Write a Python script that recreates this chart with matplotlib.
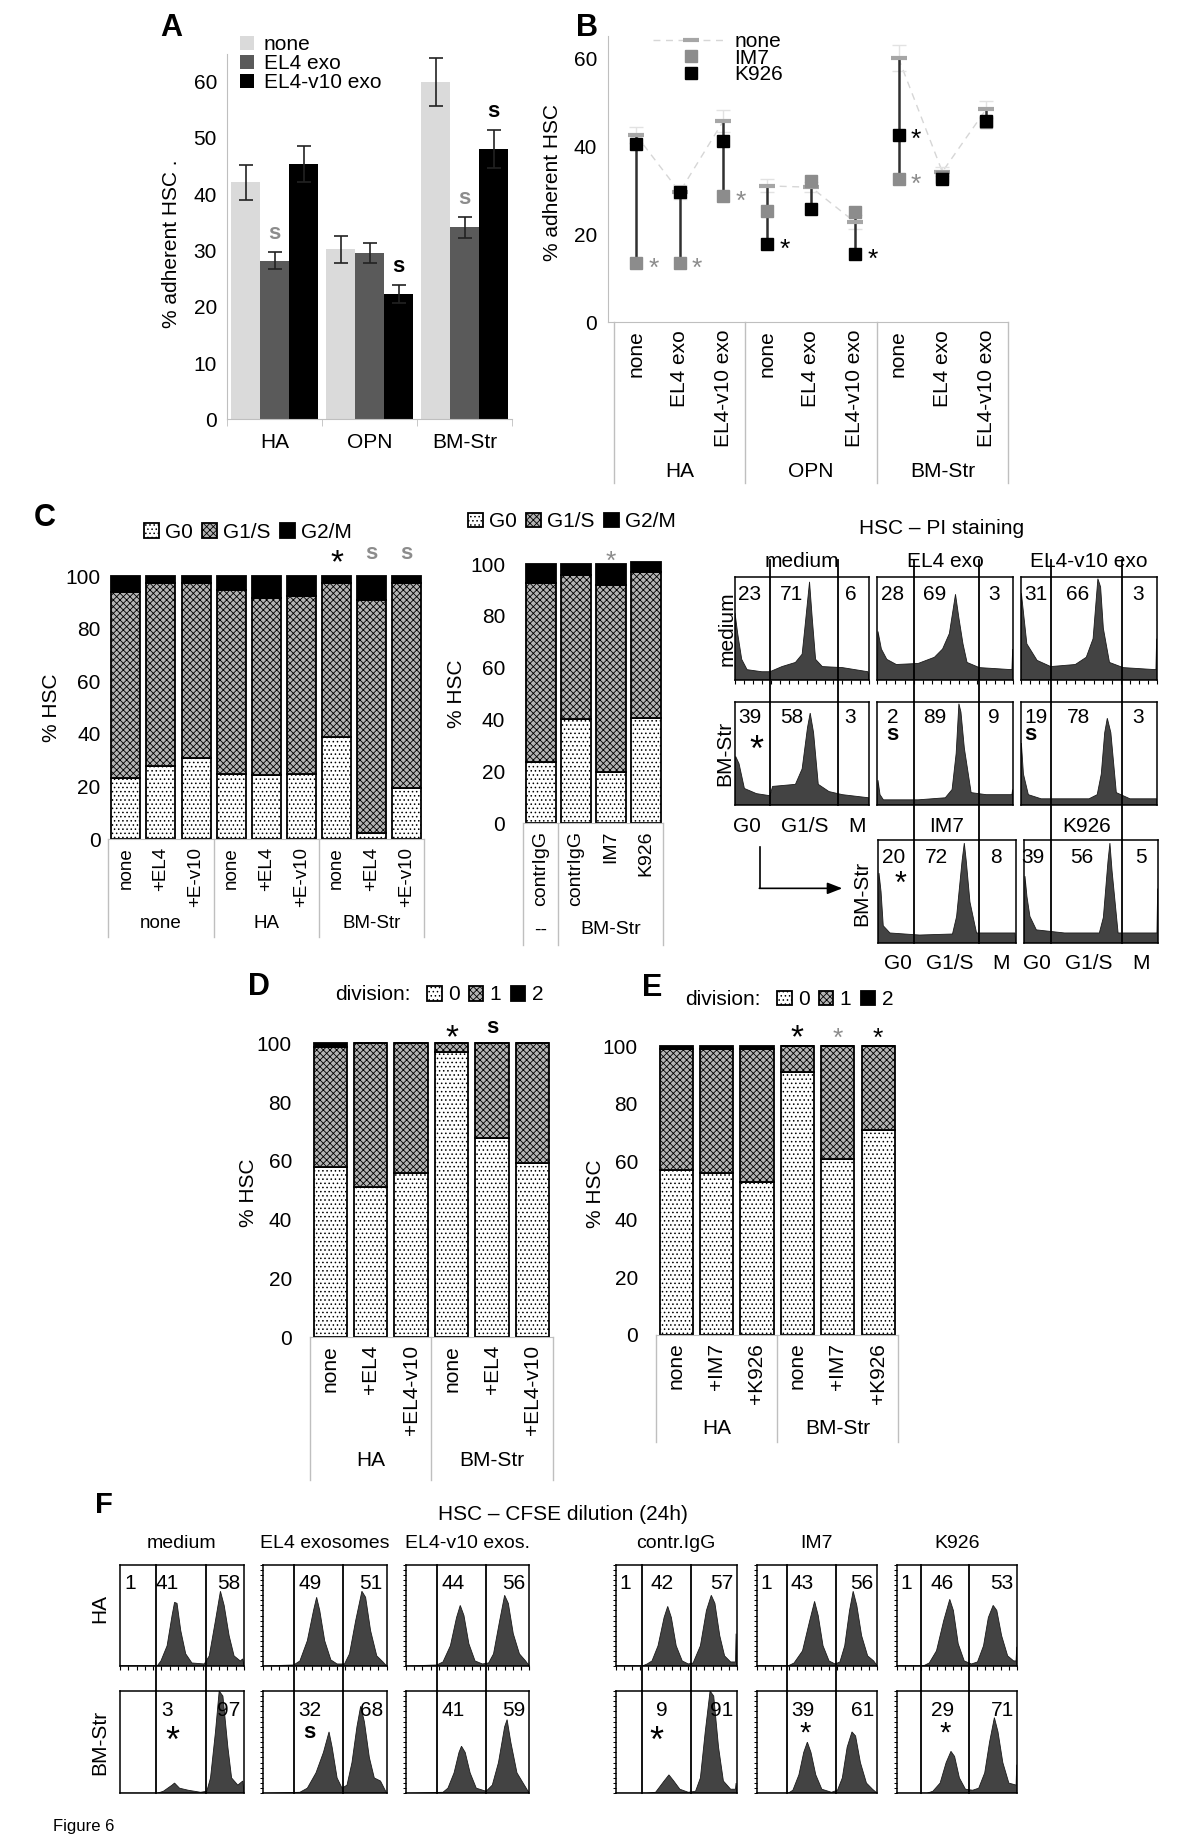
import numpy as np
import matplotlib
matplotlib.use("Agg")
import matplotlib.pyplot as plt
from matplotlib.lines import Line2D

# ======================= DATA =======================
# Panel A  (% adherent HSC, bars)
a_groups = ["HA", "OPN", "BM-Str"]
a_series = ["none", "EL4 exo", "EL4-v10 exo"]
a_none = [42.1, 30.2, 59.9]
a_el4 = [28.2, 29.5, 34.1]
a_v10 = [45.4, 22.3, 48.0]
a_none_err = [3.1, 2.4, 4.3]
a_el4_err = [1.5, 1.8, 1.9]
a_v10_err = [3.2, 1.6, 3.4]
a_sig = [(0, 1, "s", "grey"), (1, 2, "s", "black"), (2, 1, "s", "grey"), (2, 2, "s", "black")]

# Panel B  (% adherent HSC, antibodies)
b_cats = ["none", "EL4 exo", "EL4-v10 exo"] * 3
b_groups = ["HA", "OPN", "BM-Str"]
b_none = [42.6, 29.6, 45.8, 31.0, 30.7, 22.8, 60.0, 34.2, 48.4]
b_none_err = [1.8, 1.5, 2.5, 1.5, 1.2, 1.5, 3.0, 1.0, 2.0]
b_im7 = [13.4, 13.4, 28.6, 25.3, 32.0, 25.1, 32.5, 33.0, 45.6]
b_k926 = [40.5, 29.7, 41.1, 17.7, 25.7, 15.5, 42.6, 32.5, 45.8]
b_stars = [(0, "IM7"), (1, "IM7"), (2, "IM7"), (3, "K926"), (5, "K926"), (6, "K926"), (6, "IM7")]

# Panel C (cell cycle, % HSC)
c_cats = ["none", "+EL4", "+E-v10"] * 3
c_groups = ["none", "HA", "BM-Str"]
c_g0 = [23.2, 28.0, 30.8, 24.7, 24.3, 24.7, 39.0, 2.3, 19.4]
c_g1s = [70.6, 69.2, 66.4, 70.0, 67.2, 67.8, 58.2, 88.6, 77.8]
c_g2m = [6.2, 2.8, 2.8, 5.3, 8.5, 7.5, 2.8, 9.1, 2.8]
c_marks = [(6, "*", "black"), (7, "s", "grey"), (8, "s", "grey")]

cm_cats = ["contrIgG", "contrIgG", "IM7", "K926"]
cm_groups = ["--", "BM-Str"]
cm_sizes = [1, 3]
cm_g0 = [23.8, 40.1, 19.9, 40.7]
cm_g1s = [68.7, 55.8, 72.0, 56.3]
cm_g2m = [7.5, 4.1, 8.1, 3.9]
cm_marks = [(2, "*", "grey")]

# Panel C, PI histograms (profiles: (position, relative count))
pi_cols = ["medium", "EL4 exo", "EL4-v10 exo"]
pi_medium = [
    [(0, 0), (0.0, 0.65), (0.02, 0.45), (0.05, 0.2), (0.09, 0.1), (0.2, 0.08), (0.26, 0.08), (0.35, 0.13),
     (0.45, 0.17), (0.5, 0.25), (0.52, 0.5), (0.555, 0.95), (0.575, 0.6), (0.6, 0.2), (0.65, 0.13),
     (0.8, 0.12), (0.99, 0.08), (1, 0)],
    [(0, 0), (0.005, 0.47), (0.03, 0.3), (0.07, 0.2), (0.14, 0.15), (0.3, 0.16), (0.42, 0.22), (0.48, 0.3),
     (0.53, 0.45), (0.575, 0.83), (0.6, 0.6), (0.63, 0.35), (0.66, 0.17), (0.75, 0.12), (0.99, 0.1),
     (0.995, 0.3), (1, 0)],
    [(0, 0), (0.005, 0.84), (0.045, 0.35), (0.12, 0.19), (0.22, 0.13), (0.4, 0.15), (0.48, 0.22), (0.53, 0.4),
     (0.565, 0.98), (0.585, 0.9), (0.605, 0.5), (0.65, 0.17), (0.75, 0.12), (0.99, 0.1), (0.995, 0.4), (1, 0)],
]
pi_bmstr = [
    [(0, 0), (0.005, 0.47), (0.03, 0.4), (0.07, 0.16), (0.16, 0.11), (0.26, 0.09), (0.28, 0.18), (0.45, 0.2),
     (0.5, 0.35), (0.54, 0.75), (0.56, 0.89), (0.585, 0.7), (0.62, 0.2), (0.7, 0.13), (0.8, 0.1),
     (0.995, 0.07), (1, 0)],
    [(0, 0), (0.005, 0.24), (0.02, 0.1), (0.045, 0.05), (0.3, 0.05), (0.5, 0.07), (0.55, 0.15), (0.58, 0.5),
     (0.6, 0.98), (0.615, 0.9), (0.64, 0.55), (0.69, 0.12), (0.8, 0.1), (0.99, 0.1), (0.995, 0.15), (1, 0)],
    [(0, 0), (0.005, 0.6), (0.02, 0.3), (0.056, 0.1), (0.15, 0.06), (0.5, 0.06), (0.56, 0.1), (0.59, 0.3),
     (0.615, 0.7), (0.634, 0.84), (0.66, 0.7), (0.7, 0.12), (0.8, 0.06), (0.995, 0.06), (1, 0)],
]
pi_ab_names = ["IM7", "K926"]
pi_ab = [
    [(0, 0), (0.005, 0.68), (0.02, 0.5), (0.036, 0.17), (0.085, 0.1), (0.3, 0.08), (0.54, 0.09), (0.57, 0.26),
     (0.61, 0.8), (0.626, 0.97), (0.64, 0.8), (0.667, 0.4), (0.715, 0.1), (0.85, 0.1), (0.995, 0.1), (1, 0)],
    [(0, 0), (0.005, 0.65), (0.02, 0.45), (0.042, 0.26), (0.09, 0.13), (0.3, 0.1), (0.56, 0.1), (0.59, 0.25),
     (0.625, 0.8), (0.639, 0.97), (0.655, 0.7), (0.7, 0.1), (0.85, 0.1), (0.99, 0.1), (0.995, 0.53), (1, 0)],
]
pi_lab_medium = [["23", "71", "6"], ["28", "69", "3"], ["31", "66", "3"]]
pi_lab_bmstr = [["39", "58", "3"], ["2", "89", "9"], ["19", "78", "3"]]
pi_lab_ab = [["20", "72", "8"], ["39", "56", "5"]]
pi_gates = [(0.26, 0.77), (0.27, 0.745), (0.22, 0.745)]
pi_gates_ab = [(0.26, 0.73), (0.2, 0.73)]

# Panel D (division, % HSC)
d_cats = ["none", "+EL4", "+EL4-v10"] * 2
d_groups = ["HA", "BM-Str"]
d_div0 = [58.0, 51.0, 56.0, 97.1, 67.9, 59.2]
d_div1 = [40.9, 49.0, 44.0, 2.9, 32.1, 40.8]
d_div2 = [1.1, 0, 0, 0, 0, 0]
d_marks = [(3, "*", "black"), (4, "s", "black")]

# Panel E
e_cats = ["none", "+IM7", "+K926"] * 2
e_groups = ["HA", "BM-Str"]
e_div0 = [57.1, 55.9, 53.1, 91.1, 60.9, 70.9]
e_div1 = [41.9, 43.1, 45.9, 8.9, 39.1, 29.1]
e_div2 = [1.0, 1.0, 1.0, 0, 0, 0]
e_marks = [(3, "*", "black"), (4, "*", "grey"), (5, "*", "black")]

# Panel F (CFSE histograms)
f_cols = ["medium", "EL4 exosomes", "EL4-v10 exos.", "contr.IgG", "IM7", "K926"]
f_ha = [
    [(0, 0), (0.3, 0.0), (0.33, 0.05), (0.38, 0.2), (0.42, 0.5), (0.44, 0.63), (0.46, 0.62), (0.49, 0.35),
     (0.53, 0.12), (0.58, 0.03), (0.68, 0.02), (0.72, 0.1), (0.77, 0.45), (0.81, 0.74), (0.84, 0.6),
     (0.88, 0.3), (0.92, 0.1), (0.97, 0.05), (0.99, 0.07), (1, 0)],
    [(0, 0), (0.25, 0.01), (0.3, 0.05), (0.36, 0.25), (0.41, 0.55), (0.435, 0.68), (0.46, 0.55), (0.5, 0.25),
     (0.55, 0.06), (0.6, 0.02), (0.66, 0.02), (0.7, 0.12), (0.75, 0.45), (0.8, 0.74), (0.83, 0.68),
     (0.87, 0.35), (0.92, 0.1), (0.97, 0.04), (1, 0)],
    [(0, 0), (0.25, 0.01), (0.3, 0.04), (0.36, 0.2), (0.41, 0.48), (0.44, 0.6), (0.47, 0.5), (0.51, 0.22),
     (0.56, 0.05), (0.62, 0.02), (0.67, 0.03), (0.71, 0.12), (0.76, 0.45), (0.8, 0.7), (0.83, 0.62),
     (0.87, 0.32), (0.92, 0.12), (0.97, 0.05), (1, 0)],
    [(0, 0), (0.22, 0.0), (0.26, 0.02), (0.3, 0.05), (0.35, 0.2), (0.4, 0.48), (0.43, 0.59), (0.46, 0.48),
     (0.5, 0.2), (0.55, 0.05), (0.6, 0.02), (0.64, 0.03), (0.7, 0.2), (0.75, 0.55), (0.79, 0.7),
     (0.82, 0.62), (0.86, 0.3), (0.9, 0.1), (0.95, 0.04), (0.99, 0.04), (0.995, 0.32), (1, 0)],
    [(0, 0), (0.26, 0.0), (0.31, 0.03), (0.38, 0.15), (0.44, 0.45), (0.48, 0.64), (0.51, 0.5), (0.55, 0.2),
     (0.6, 0.05), (0.65, 0.02), (0.69, 0.04), (0.73, 0.2), (0.77, 0.55), (0.8, 0.74), (0.83, 0.6),
     (0.87, 0.3), (0.92, 0.1), (0.97, 0.05), (1, 0)],
    [(0, 0), (0.22, 0.0), (0.27, 0.03), (0.33, 0.15), (0.39, 0.45), (0.44, 0.66), (0.47, 0.55), (0.51, 0.22),
     (0.56, 0.05), (0.62, 0.02), (0.67, 0.04), (0.72, 0.2), (0.76, 0.48), (0.8, 0.6), (0.83, 0.55),
     (0.87, 0.3), (0.92, 0.1), (0.97, 0.05), (0.99, 0.05), (0.995, 0.19), (1, 0)],
]
f_bm = [
    [(0, 0), (0.3, 0.0), (0.35, 0.02), (0.42, 0.08), (0.44, 0.1), (0.48, 0.05), (0.55, 0.03), (0.65, 0.01),
     (0.7, 0.02), (0.73, 0.15), (0.77, 0.6), (0.8, 1.0), (0.83, 0.95), (0.87, 0.45), (0.9, 0.15),
     (0.95, 0.08), (0.99, 0.12), (1, 0)],
    [(0, 0), (0.3, 0.01), (0.36, 0.05), (0.43, 0.2), (0.49, 0.4), (0.535, 0.6), (0.56, 0.45), (0.6, 0.15),
     (0.64, 0.05), (0.68, 0.08), (0.72, 0.3), (0.76, 0.65), (0.79, 0.85), (0.82, 0.7), (0.86, 0.35),
     (0.9, 0.15), (0.95, 0.12), (1, 0)],
    [(0, 0), (0.3, 0.01), (0.34, 0.05), (0.39, 0.2), (0.43, 0.4), (0.45, 0.46), (0.48, 0.4), (0.52, 0.2),
     (0.57, 0.05), (0.65, 0.02), (0.7, 0.08), (0.75, 0.3), (0.8, 0.65), (0.82, 0.72), (0.85, 0.5),
     (0.9, 0.2), (0.95, 0.1), (1, 0)],
    [(0, 0), (0.25, 0.0), (0.33, 0.01), (0.4, 0.12), (0.44, 0.18), (0.48, 0.12), (0.53, 0.04), (0.6, 0.01),
     (0.66, 0.02), (0.7, 0.15), (0.74, 0.6), (0.78, 1.0), (0.81, 0.95), (0.85, 0.45), (0.89, 0.12),
     (0.95, 0.04), (0.99, 0.04), (0.995, 0.1), (1, 0)],
    [(0, 0), (0.26, 0.0), (0.3, 0.03), (0.35, 0.18), (0.39, 0.4), (0.42, 0.5), (0.45, 0.4), (0.49, 0.18),
     (0.54, 0.04), (0.62, 0.01), (0.67, 0.03), (0.71, 0.15), (0.75, 0.45), (0.79, 0.6), (0.82, 0.56),
     (0.86, 0.3), (0.91, 0.1), (0.96, 0.04), (1, 0)],
    [(0, 0), (0.25, 0.0), (0.3, 0.02), (0.36, 0.1), (0.41, 0.3), (0.45, 0.41), (0.48, 0.36), (0.52, 0.15),
     (0.57, 0.04), (0.63, 0.03), (0.68, 0.05), (0.73, 0.2), (0.77, 0.5), (0.81, 0.74), (0.84, 0.6),
     (0.88, 0.3), (0.93, 0.1), (0.99, 0.08), (0.995, 0.28), (1, 0)],
]
f_lab_ha = [["1", "41", "58"], ["", "49", "51"], ["", "44", "56"], ["1", "42", "57"], ["1", "43", "56"], ["1", "46", "53"]]
f_lab_bm = [["", "3", "97"], ["", "32", "68"], ["", "41", "59"], ["", "9", "91"], ["", "39", "61"], ["", "29", "71"]]
f_gates = [(0.288, 0.69), (0.25, 0.65), (0.25, 0.65), (0.215, 0.62), (0.254, 0.658), (0.2, 0.6)]
f_marks_bm = [("*", 0.42, "big"), ("s", 0.38, "s"), None, ("*", 0.34, "big"), ("*", 0.40, "small"), ("*", 0.40, "small")]

# ======================= STYLE / LAYOUT =======================
plt.rcParams["font.family"] = ["Liberation Sans", "DejaVu Sans"]
plt.rcParams["hatch.linewidth"] = 0.6

W, H = 1200, 1843
fig = plt.figure(figsize=(W / 100, H / 100), dpi=100)
FS = 15
FSC = 13.5
AXGREY = "#bfbfbf"
SGREY = "#8c8c8c"
HFILL = "#434343"
COL = {"grey": SGREY, "black": "black"}

G0_STYLE = dict(facecolor="white", edgecolor="black", hatch="....", linewidth=1.3)
G1_STYLE = dict(facecolor="#b4b4b4", edgecolor="black", hatch="xxxxx", linewidth=1.3)
G2_STYLE = dict(facecolor="black", edgecolor="black", linewidth=1.3)


def add_ax(x0, y0, x1, y1):
    ax = fig.add_axes([x0 / W, 1 - y1 / H, (x1 - x0) / W, (y1 - y0) / H])
    ax._px = (x0, y0, x1, y1)
    return ax


def ay(ax, ypx):
    x0, y0, x1, y1 = ax._px
    return (y1 - ypx) / (y1 - y0)


def ftext(xpx, ypx, s, **kw):
    kw.setdefault("fontsize", FS)
    return fig.text(xpx / W, 1 - ypx / H, s, **kw)


def cat_axis(ax, labels, group_names, group_sizes, pad, group_ypx, sep_ypx, fs=FS):
    n = len(labels)
    ax.set_xlim(-0.5, n - 0.5)
    ax.set_xticks(np.arange(n))
    ax.set_xticklabels(labels, rotation=90, fontsize=fs)
    ax.tick_params(axis="x", length=0, pad=pad)
    tr = ax.get_xaxis_transform()
    ysep, ygrp = ay(ax, sep_ypx), ay(ax, group_ypx)
    start, bounds = 0, [-0.5]
    for name, size in zip(group_names, group_sizes):
        ax.text(start + (size - 1) / 2, ygrp, name, transform=tr, ha="center", va="center", fontsize=fs)
        start += size
        bounds.append(start - 0.5)
    for b in bounds:
        ax.plot([b, b], [0, ysep], transform=tr, color=AXGREY, lw=1, clip_on=False)


def stacked_panel(ax, layers, width, ypad, fs=FS):
    x = np.arange(len(layers[0]))
    bottom = np.zeros(len(x))
    conts = []
    for vals, st in zip(layers, [G0_STYLE, G1_STYLE, G2_STYLE]):
        vals = np.asarray(vals, float)
        c = ax.bar(x, vals, width, bottom=bottom, **st)
        for p in c:
            p.set_clip_on(False)
        conts.append(c)
        bottom += vals
    ax.set_ylim(0, 100)
    ax.set_yticks(np.arange(0, 101, 20))
    ax.tick_params(axis="y", length=0, pad=ypad, labelsize=fs)
    for s in ["top", "right", "left"]:
        ax.spines[s].set_visible(False)
    ax.spines["bottom"].set_color(AXGREY)
    return conts


def marks(ax, items, y, sizes=None):
    for i, (idx, s, c) in enumerate(items):
        big = s == "*" and c == "black" and (sizes is None or sizes[i] == "big")
        fs = (24 if big else 19) if s == "*" else 16
        weight = "bold" if s == "s" else "normal"
        yy = y - (4 if s == "*" else 0)
        ax.text(idx, yy, s, ha="center", va="center", color=COL[c], fontsize=fs,
                fontweight=weight, clip_on=False)


def hist_box(ax, pts, gates, labels, lab_x, lab_y, ext_top=0.0, ext_bot=0.0, bticks=False, lticks=False):
    xs, ys = zip(*pts)
    ax.fill(xs, ys, facecolor=HFILL, edgecolor="#1a1a1a", lw=0.6)
    ax.set_xlim(0, 1)
    ax.set_ylim(0, 1)
    for s in ax.spines.values():
        s.set_linewidth(1.1)
    if bticks:
        ax.set_xticks(np.linspace(0, 1, 16))
        ax.tick_params(axis="x", length=3, width=0.8, direction="out", labelbottom=False)
    else:
        ax.set_xticks([])
    if lticks:
        ax.set_yticks(np.linspace(0, 1, 21))
        ax.tick_params(axis="y", length=2.5, width=0.7, direction="out", labelleft=False)
    else:
        ax.set_yticks([])
    for g in gates:
        ax.axvline(g, ymin=-ext_bot, ymax=1 + ext_top, color="black", lw=1.3, clip_on=False)
    for lx, lab in zip(lab_x, labels):
        ax.text(lx, lab_y, lab, transform=ax.transAxes, ha="center", va="center", fontsize=FS)


# ======================= PANEL A =======================
axA = add_ax(227.3, 53.5, 512.3, 419.3)
xa = np.arange(3)
wA = 0.304
colsA = ["#dadada", "#5a5a5a", "#000000"]
valsA = [a_none, a_el4, a_v10]
errsA = [a_none_err, a_el4_err, a_v10_err]
barsA = []
for k in range(3):
    b = axA.bar(xa + (k - 1) * wA, valsA[k], wA, color=colsA[k], label=a_series[k], zorder=2)
    axA.errorbar(xa + (k - 1) * wA, valsA[k], yerr=errsA[k], fmt="none", ecolor="#222222",
                 elinewidth=1.2, capsize=4.7, capthick=1.2, zorder=3)
    barsA.append(b)
for gi, si, s, c in a_sig:
    axA.text(gi + (si - 1) * wA, valsA[si][gi] + errsA[si][gi] + 3.3, s, ha="center", va="center",
             color=COL[c], fontsize=16, fontweight="bold")
axA.set_xlim(-0.5, 2.5)
axA.set_ylim(0, 65)
axA.set_yticks(np.arange(0, 61, 10))
axA.tick_params(axis="y", length=0, pad=7.5, labelsize=FS)
axA.set_xticks(xa)
axA.set_xticklabels(a_groups, fontsize=FS)
axA.set_xticks([-0.5, 0.5, 1.5, 2.5], minor=True)
axA.tick_params(axis="x", which="major", length=0, pad=10)
axA.tick_params(axis="x", which="minor", length=5, color=AXGREY, direction="out")
for s in ["top", "right"]:
    axA.spines[s].set_visible(False)
axA.spines["left"].set_color(AXGREY)
axA.spines["bottom"].set_color(AXGREY)
axA.text(-0.195, 0.48, "% adherent HSC .", rotation=90, ha="center", va="center", fontsize=FS,
         transform=axA.transAxes)
axA.legend(handles=barsA, loc="upper left", bbox_to_anchor=(240 / W, 1 - 35 / H),
           bbox_transform=fig.transFigure, frameon=False, fontsize=FS, handlelength=0.65,
           handleheight=0.65, handletextpad=0.5, labelspacing=0.0, borderpad=0, borderaxespad=0)
ftext(171, 28, "A", fontsize=22, fontweight="bold", ha="center", va="center")

# ======================= PANEL B =======================
axB = add_ax(608.3, 36.3, 1008, 322.3)
xb = np.arange(9)
lo = np.minimum.reduce([b_none, b_im7, b_k926])
hi = np.maximum.reduce([b_none, b_im7, b_k926])
axB.vlines(xb, lo, hi, color="#303030", lw=1.8, zorder=2)
for g in range(3):
    sl = slice(3 * g, 3 * g + 3)
    axB.plot(xb[sl], np.asarray(b_none)[sl], ls=(0, (5, 4)), color="#d6d6d6", lw=1.0, zorder=1)
axB.errorbar(xb, b_none, yerr=b_none_err, fmt="none", ecolor="#e2e2e2", elinewidth=1, capsize=5, zorder=1)
axB.plot(xb, b_none, ls="none", marker="_", ms=12, mew=3, color="#a6a6a6", zorder=3)
lim7, = axB.plot(xb, b_im7, ls="none", marker="s", ms=8.5, color=SGREY, zorder=4, label="IM7")
lk9, = axB.plot(xb, b_k926, ls="none", marker="s", ms=8.5, color="black", zorder=5, label="K926")
ser = {"IM7": (b_im7, SGREY), "K926": (b_k926, "black")}
for idx, sname in b_stars:
    vals, c = ser[sname]
    axB.text(idx + 0.4, vals[idx] - 1.2, "*", ha="center", va="center", color=c, fontsize=19)
hnone = Line2D([], [], ls=(0, (5, 4)), color="#d6d6d6", lw=1, marker="_", ms=12, mew=3,
               mec="#a6a6a6", label="none")
axB.legend(handles=[hnone, lim7, lk9], loc="upper left", bbox_to_anchor=(653 / W, 1 - 32 / H),
           bbox_transform=fig.transFigure, frameon=False, fontsize=FS, handlelength=3.6,
           handletextpad=0.3, labelspacing=-0.12, borderpad=0, borderaxespad=0)
axB.set_ylim(0, 65)
axB.set_yticks([0, 20, 40, 60])
axB.tick_params(axis="y", length=0, pad=8, labelsize=FS)
for s in ["top", "right"]:
    axB.spines[s].set_visible(False)
axB.spines["left"].set_color(AXGREY)
axB.spines["bottom"].set_color(AXGREY)
cat_axis(axB, b_cats, b_groups, [3, 3, 3], 5.5, 471.7, 483)
axB.set_xlim(-0.63, 8.5)
axB.text(-0.14, 0.49, "% adherent HSC", rotation=90, ha="center", va="center", fontsize=FS,
         transform=axB.transAxes)
ftext(587, 28, "B", fontsize=22, fontweight="bold", ha="center", va="center")

# ======================= PANEL C (bars) =======================
axC = add_ax(108.3, 576, 424.3, 839.3)
contC = stacked_panel(axC, [c_g0, c_g1s, c_g2m], 0.826, 5.5)
cat_axis(axC, c_cats, c_groups, [3, 3, 3], 5.5, 923.3, 937, fs=FSC)
marks(axC, [(i, s, c) for i, s, c in c_marks], 108.5)
axC.text(-0.18, 0.5, "% HSC", rotation=90, ha="center", va="center", fontsize=FS, transform=axC.transAxes)
axC.legend(contC, ["G0", "G1/S", "G2/M"], ncol=3, loc="center", bbox_to_anchor=(248 / W, 1 - 532.3 / H),
           bbox_transform=fig.transFigure, frameon=False, fontsize=FS, handlelength=0.7,
           handleheight=0.7, handletextpad=0.3, columnspacing=0.45, borderpad=0)
ftext(44.5, 518, "C", fontsize=22, fontweight="bold", ha="center", va="center")

axCm = add_ax(523.3, 564, 663.3, 823.3)
contCm = stacked_panel(axCm, [cm_g0, cm_g1s, cm_g2m], 0.857, 13)
cat_axis(axCm, cm_cats, cm_groups, cm_sizes, 5.5, 930, 945, fs=14)
marks(axCm, cm_marks, 105)
axCm.text(-0.48, 0.5, "% HSC", rotation=90, ha="center", va="center", fontsize=FS, transform=axCm.transAxes)
axCm.legend(contCm, ["G0", "G1/S", "G2/M"], ncol=3, loc="center", bbox_to_anchor=(572 / W, 1 - 521.7 / H),
            bbox_transform=fig.transFigure, frameon=False, fontsize=FS, handlelength=0.7,
            handleheight=0.7, handletextpad=0.3, columnspacing=0.45, borderpad=0)

# ======================= PANEL C (PI histograms) =======================
ftext(941.7, 528.3, "HSC \u2013 PI staining", ha="center", va="center")
col_x = [(735, 869.3), (877.3, 1013.3), (1020.7, 1157.3)]
lab_x = [0.11, 0.42, 0.86]
for j, (x0, x1) in enumerate(col_x):
    a1 = add_ax(x0, 576.7, x1, 680)
    hist_box(a1, pi_medium[j], pi_gates[j], pi_lab_medium[j], lab_x, 0.83, ext_top=0.16, ext_bot=0.21,
             bticks=True)
    a1.text(0.5, 1.145, pi_cols[j], transform=a1.transAxes, ha="center", va="center", fontsize=FS)
    a2 = add_ax(x0, 701.7, x1, 805)
    hist_box(a2, pi_bmstr[j], pi_gates[j], pi_lab_bmstr[j], lab_x, 0.85, ext_bot=0.0 if j == 0 else 0.34)
    if j == 0:
        a1.text(-0.062, 0.5, "medium", rotation=90, transform=a1.transAxes, ha="center", va="center", fontsize=FS)
        a2.text(-0.074, 0.5, "BM-Str", rotation=90, transform=a2.transAxes, ha="center", va="center", fontsize=FS)
        a2.text(0.16, 0.52, "*", transform=a2.transAxes, ha="center", va="center", fontsize=26)
        for lx, lab in zip([0.087, 0.516, 0.906], ["G0", "G1/S", "M"]):
            a2.text(lx, -0.21, lab, transform=a2.transAxes, ha="center", va="center", fontsize=FS)
    else:
        a2.text([0.11, 0.07][j - 1], 0.68, "s", transform=a2.transAxes, ha="center", va="center",
                fontsize=16, fontweight="bold")
ab_x = [(878.3, 1015.7), (1024.3, 1158.3)]
ab_bottom_x = [[0.146, 0.517, 0.893], [0.097, 0.478, 0.869]]
for j, (x0, x1) in enumerate(ab_x):
    a3 = add_ax(x0, 840, x1, 943.3)
    hist_box(a3, pi_ab[j], pi_gates_ab[j], pi_lab_ab[j], [[0.114, 0.425, 0.857], [0.067, 0.428, 0.873]][j], 0.83)
    a3.text([0.5, 0.465][j], 1.129, pi_ab_names[j], transform=a3.transAxes, ha="center", va="center", fontsize=FS)
    for lx, lab in zip(ab_bottom_x[j], ["G0", "G1/S", "M"]):
        a3.text(lx, -0.194, lab, transform=a3.transAxes, ha="center", va="center", fontsize=FS)
    if j == 0:
        a3.text(-0.12, 0.484, "BM-Str", rotation=90, transform=a3.transAxes, ha="center", va="center", fontsize=FS)
        a3.text(0.158, 0.57, "*", transform=a3.transAxes, ha="center", va="center", fontsize=22)
        a3.plot([-0.861, -0.861], [0.935, 0.532], transform=a3.transAxes, color="black", lw=1.2, clip_on=False)
        a3.annotate("", xy=(-0.262, 0.532), xytext=(-0.866, 0.532), xycoords="axes fraction",
                    textcoords="axes fraction",
                    arrowprops=dict(arrowstyle="-|>,head_length=0.9,head_width=0.35", color="black", lw=1.2,
                                    shrinkA=0, shrinkB=0))

# ======================= PANEL D =======================
axD = add_ax(310, 1043.3, 552.7, 1337.3)
contD = stacked_panel(axD, [d_div0, d_div1, d_div2], 0.824, 13)
cat_axis(axD, d_cats, d_groups, [3, 3], 5.5, 1460, 1480)
marks(axD, d_marks, 105.5)
axD.text(-0.255, 0.49, "% HSC", rotation=90, ha="center", va="center", fontsize=FS, transform=axD.transAxes)
ftext(335, 995, "division:", ha="left", va="center")
axD.legend(contD, ["0", "1", "2"], ncol=3, loc="center", bbox_to_anchor=(485 / W, 1 - 995 / H),
           bbox_transform=fig.transFigure, frameon=False, fontsize=FS, handlelength=0.7,
           handleheight=0.7, handletextpad=0.3, columnspacing=0.45, borderpad=0)
ftext(259, 987, "D", fontsize=22, fontweight="bold", ha="center", va="center")

# ======================= PANEL E =======================
axE = add_ax(656, 1046, 898.3, 1335)
contE = stacked_panel(axE, [e_div0, e_div1, e_div2], 0.82, 13)
cat_axis(axE, e_cats, e_groups, [3, 3], 5.5, 1428.3, 1441.7)
marks(axE, e_marks, 106.5, sizes=["big", "small", "small"])
axE.text(-0.25, 0.49, "% HSC", rotation=90, ha="center", va="center", fontsize=FS, transform=axE.transAxes)
ftext(685, 1000, "division:", ha="left", va="center")
axE.legend(contE, ["0", "1", "2"], ncol=3, loc="center", bbox_to_anchor=(835 / W, 1 - 1000 / H),
           bbox_transform=fig.transFigure, frameon=False, fontsize=FS, handlelength=0.7,
           handleheight=0.7, handletextpad=0.3, columnspacing=0.45, borderpad=0)
ftext(651.7, 988, "E", fontsize=22, fontweight="bold", ha="center", va="center")

# ======================= PANEL F =======================
ftext(104, 1505, "F", fontsize=21, fontweight="bold", ha="center", va="center")
ftext(562.5, 1515, "HSC \u2013 CFSE dilution (24h)", ha="center", va="center")
fx = [(120, 244), (262.7, 386.7), (406, 529.3), (615.7, 736.7), (756.7, 877.3), (896.7, 1017.3)]
flab_x = [0.08, 0.38, 0.875]
for j, (x0, x1) in enumerate(fx):
    r1 = add_ax(x0, 1565, x1, 1666)
    hist_box(r1, f_ha[j], f_gates[j], f_lab_ha[j], flab_x, 0.82, ext_bot=0.25, bticks=True, lticks=(j > 0))
    r1.text(0.5, 1.215, f_cols[j], transform=r1.transAxes, ha="center", va="center", fontsize=14)
    r2 = add_ax(x0, 1691, x1, 1793.3)
    hist_box(r2, f_bm[j], f_gates[j], f_lab_bm[j], flab_x, 0.81, lticks=(j > 0))
    m = f_marks_bm[j]
    if m is not None:
        s, mx, kind = m
        if s == "s":
            r2.text(mx, 0.59, "s", transform=r2.transAxes, ha="center", va="center", fontsize=16, fontweight="bold")
        else:
            r2.text(mx, 0.5 if kind == "big" else 0.58, "*", transform=r2.transAxes, ha="center", va="center",
                    fontsize=26 if kind == "big" else 21)
    if j == 0:
        r1.text(-0.16, 0.57, "HA", rotation=90, transform=r1.transAxes, ha="center", va="center", fontsize=FS)
        r2.text(-0.16, 0.5, "BM-Str", rotation=90, transform=r2.transAxes, ha="center", va="center", fontsize=FS)

ftext(53, 1826.7, "Figure 6", fontsize=12, ha="left", va="center")

fig.savefig("out.png", dpi=100)
